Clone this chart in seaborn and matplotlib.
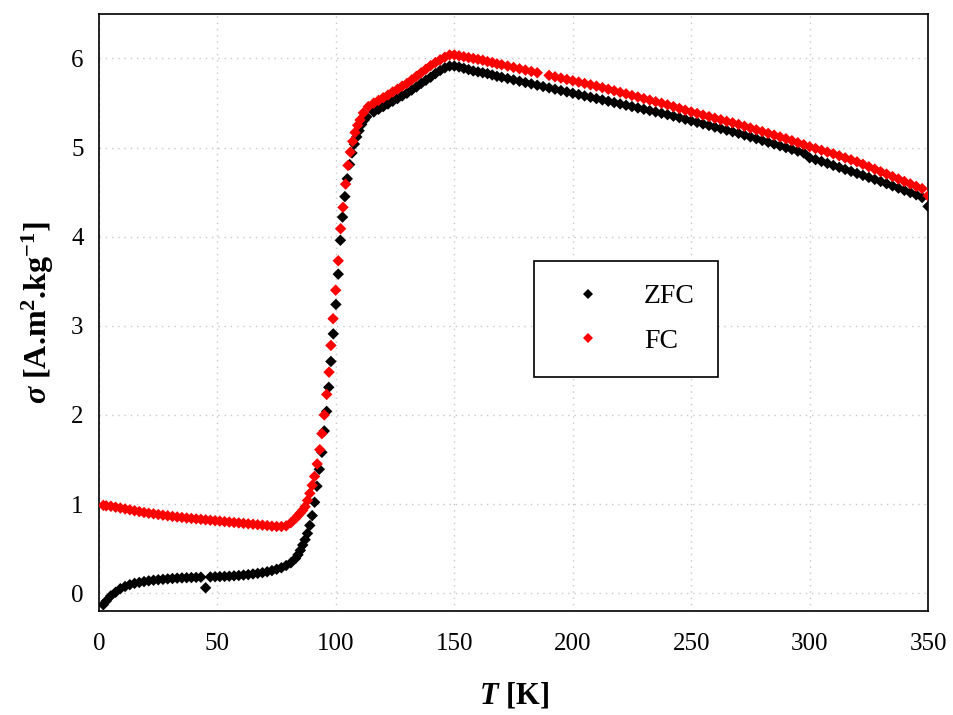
import matplotlib
matplotlib.use("Agg")
import matplotlib.pyplot as plt
from matplotlib.ticker import MultipleLocator
import pandas as pd
import seaborn as sns

# Zero-field-cooled magnetisation, sigma [A.m2.kg-1] against T [K]
zfc_temp = [
    1.8, 3, 5, 7, 9, 11, 13, 15, 17, 19, 21, 23, 25, 27, 29, 31, 33, 35, 37, 39,
    41, 43, 45, 47, 49, 51, 53, 55, 57, 59, 61, 63, 65, 67, 69, 71, 73, 75, 77, 79,
    81, 83,
    84, 85, 86, 87, 88, 89, 90, 91, 92, 93, 94.1, 95.1, 96.1, 97, 97.9, 98.9, 100,
    101, 101.9, 102.8, 103.8, 104.8, 105.8, 106.8, 107.8, 108.8, 109.8, 110.9, 112, 113,
    116, 118, 120, 122, 124, 126, 128, 130, 132, 134, 136, 138, 140, 142, 144, 146,
    148, 150, 152, 154, 156, 158, 160, 162, 164, 166, 168, 170,
    172.5, 175, 177.5, 180, 182.5, 185, 187.5, 190, 192.5, 195, 197.5, 200,
    202.5, 205, 207.5, 210, 212.5, 215, 217.5, 220, 222.5, 225, 227.5, 230,
    232.5, 235, 237.5, 240, 242.5, 245, 247.5, 250, 252.5, 255, 257.5, 260,
    262.5, 265, 267.5, 270, 272.5, 275, 277.5, 280, 282.5, 285, 287.5, 290,
    292.5, 295, 297.5, 300, 302.5, 305, 307.5, 310, 312.5, 315, 317.5, 320,
    322.5, 325, 327.5, 330, 332.5, 335, 337.5, 340, 342.5, 345, 347.5, 350,
]
zfc_sigma = [
    -0.13, -0.09, -0.03, 0.01, 0.05, 0.075, 0.095, 0.11, 0.12, 0.13, 0.138, 0.145,
    0.15, 0.155, 0.16, 0.164, 0.168, 0.171, 0.173, 0.175, 0.177, 0.179, 0.06, 0.182,
    0.184, 0.186, 0.188, 0.19, 0.194, 0.198, 0.203, 0.208, 0.215, 0.222, 0.23, 0.24,
    0.253, 0.268, 0.285, 0.31, 0.34, 0.39,
    0.43, 0.48, 0.54, 0.60, 0.67, 0.76, 0.87, 1.02, 1.20, 1.39, 1.58, 1.82, 2.04,
    2.31, 2.60, 2.91, 3.24, 3.58, 3.96, 4.22, 4.45, 4.65, 4.81, 4.94, 5.04, 5.12,
    5.19, 5.26, 5.31, 5.345,
    5.40, 5.43, 5.46, 5.49, 5.52, 5.55, 5.58, 5.61, 5.645, 5.68, 5.72, 5.755, 5.79,
    5.83, 5.865, 5.895, 5.915, 5.915, 5.905, 5.89, 5.875, 5.86, 5.85, 5.84, 5.83,
    5.815, 5.80, 5.79,
    5.775, 5.76, 5.745, 5.73, 5.715, 5.70, 5.685, 5.67, 5.655, 5.64, 5.625, 5.61,
    5.595, 5.58, 5.565, 5.55, 5.535, 5.52, 5.505, 5.49, 5.475, 5.46, 5.445, 5.43,
    5.415, 5.40, 5.385, 5.37, 5.353, 5.336, 5.318, 5.30, 5.283, 5.265, 5.248, 5.23,
    5.213, 5.195, 5.178, 5.16, 5.14, 5.12, 5.10, 5.08, 5.06, 5.04, 5.02, 5.00,
    4.98, 4.96, 4.94, 4.885, 4.865, 4.845, 4.823, 4.80, 4.778, 4.755, 4.733, 4.71,
    4.688, 4.665, 4.643, 4.62, 4.595, 4.57, 4.545, 4.52, 4.495, 4.47, 4.44, 4.34,
]

# Field-cooled magnetisation
fc_temp = [
    1.8, 3, 5, 7, 9, 11, 13, 15, 17, 19, 21, 23, 25, 27, 29, 31, 33, 35, 37, 39,
    41, 43, 45, 47, 49, 51, 53, 55, 57, 59, 61, 63, 65, 67, 69, 71, 73, 75, 77, 79,
    81, 83,
    84, 85, 86, 87, 88, 89, 90, 91, 92.1, 93.2, 94.1, 95.1, 96.1, 97.1, 97.9, 98.8,
    99.9, 101, 102, 103, 104.1, 105.1, 106.1, 107.1, 108.1, 109.2, 110.2, 111.6, 113.7,
    116, 118, 120, 122, 124, 126, 128, 130, 132, 134, 136, 138, 140, 142, 144, 146,
    148, 150, 152, 154, 156, 158, 160, 162, 164, 166, 168, 170,
    172.5, 175, 177.5, 180, 182.5, 185, 190, 192.5, 195, 197.5, 200,
    202.5, 205, 207.5, 210, 212.5, 215, 217.5, 220, 222.5, 225, 227.5, 230,
    232.5, 235, 237.5, 240, 242.5, 245, 247.5, 250, 252.5, 255, 257.5, 260,
    262.5, 265, 267.5, 270, 272.5, 275, 277.5, 280, 282.5, 285, 287.5, 290,
    292.5, 295, 297.5, 300, 302.5, 305, 307.5, 310, 312.5, 315, 317.5, 320,
    322.5, 325, 327.5, 330, 332.5, 335, 337.5, 340, 342.5, 345, 347.5, 350,
]
fc_sigma = [
    0.985, 0.98, 0.975, 0.965, 0.955, 0.945, 0.935, 0.925, 0.915, 0.905, 0.897, 0.89,
    0.882, 0.875, 0.868, 0.861, 0.855, 0.849, 0.843, 0.838, 0.833, 0.828, 0.823,
    0.818, 0.813, 0.808, 0.803, 0.798, 0.793, 0.788, 0.783, 0.778, 0.773, 0.768,
    0.763, 0.758, 0.752, 0.748, 0.748, 0.755, 0.79, 0.84,
    0.87, 0.90, 0.93, 0.97, 1.04, 1.12, 1.21, 1.31, 1.45, 1.61, 1.79, 2.00, 2.23,
    2.48, 2.78, 3.08, 3.40, 3.73, 4.09, 4.33, 4.59, 4.80, 4.95, 5.07, 5.17, 5.25,
    5.31, 5.39, 5.46,
    5.50, 5.53, 5.56, 5.59, 5.625, 5.655, 5.69, 5.72, 5.76, 5.80, 5.84, 5.88, 5.92,
    5.955, 5.985, 6.015, 6.04, 6.04, 6.03, 6.02, 6.01, 6.00, 5.99, 5.98, 5.965,
    5.955, 5.94, 5.93,
    5.915, 5.90, 5.885, 5.87, 5.855, 5.84, 5.81, 5.795, 5.78, 5.765, 5.75,
    5.735, 5.72, 5.705, 5.69, 5.673, 5.655, 5.638, 5.62, 5.603, 5.585, 5.568, 5.55,
    5.533, 5.515, 5.498, 5.48, 5.46, 5.44, 5.42, 5.40, 5.383, 5.365, 5.348, 5.33,
    5.313, 5.295, 5.278, 5.26, 5.24, 5.22, 5.20, 5.18, 5.16, 5.14, 5.12, 5.10,
    5.078, 5.055, 5.033, 5.01, 4.99, 4.97, 4.95, 4.93, 4.908, 4.885, 4.863, 4.84,
    4.813, 4.785, 4.758, 4.73, 4.703, 4.675, 4.648, 4.62, 4.593, 4.565, 4.54, 4.46,
]

series_names = ["ZFC", "FC"]
series_colors = ["black", "red"]
x_ticks = [0, 50, 100, 150, 200, 250, 300, 350]
y_ticks = [0, 1, 2, 3, 4, 5, 6]

df = pd.concat([
    pd.DataFrame({"T": zfc_temp, "sigma": zfc_sigma, "curve": series_names[0]}),
    pd.DataFrame({"T": fc_temp, "sigma": fc_sigma, "curve": series_names[1]}),
], ignore_index=True)

sns.set_style("white")
plt.rcParams.update({
    "font.family": ["Liberation Serif", "DejaVu Serif"],
    "text.color": "black",
    "axes.labelcolor": "black",
    "xtick.color": "black",
    "ytick.color": "black",
    "mathtext.fontset": "custom",
    "mathtext.rm": "Liberation Serif:bold",
    "mathtext.bf": "Liberation Serif:bold",
    "mathtext.it": "Liberation Serif:italic:bold",
    "mathtext.bfit": "Liberation Serif:italic:bold",
})

fig = plt.figure(figsize=(9.54, 7.15), dpi=100)
ax = fig.add_axes([0.1038, 0.1455, 0.8690, 0.8350])

sns.scatterplot(
    data=df, x="T", y="sigma", hue="curve", hue_order=series_names,
    palette=dict(zip(series_names, series_colors)),
    marker="D", s=34, linewidth=0, ax=ax, zorder=3,
)

ax.set_xlim(0, 350)
ax.set_ylim(-0.2, 6.5)
ax.set_xticks(x_ticks)
ax.set_yticks(y_ticks)
ax.xaxis.set_minor_locator(MultipleLocator(10))
ax.yaxis.set_minor_locator(MultipleLocator(0.2))
ax.tick_params(which="both", direction="in", top=False, right=False,
               color="black", width=1.0)
ax.tick_params(which="major", length=5, labelsize=18, labelcolor="black")
ax.tick_params(axis="x", which="major", pad=16)
ax.tick_params(axis="y", which="major", pad=11)
ax.tick_params(which="minor", length=3)

ax.set_axisbelow(True)
ax.grid(True, which="major", color="#c8c8c8", linestyle=(0, (1, 3.5)), linewidth=1.0)
for side in ax.spines.values():
    side.set_visible(True)
    side.set_color("black")
    side.set_linewidth(1.2)

ax.set_xlabel(r"$\mathbfit{T}$ [K]", fontsize=22, fontweight="bold", labelpad=18,
              color="black")
ax.set_ylabel(r"$\mathbfit{\sigma}$ [A.m$^{2}$.kg$^{-1}$]", fontsize=23,
              fontweight="bold", labelpad=11, color="black")

sns.move_legend(
    ax, "upper left", bbox_to_anchor=(0.525, 0.586), borderaxespad=0,
    title=None, fontsize=20, frameon=True, fancybox=False, framealpha=1,
    edgecolor="black", borderpad=0.82, handlelength=2.25, handletextpad=0.88,
    labelspacing=0.7, markerscale=0.9,
)
leg = ax.get_legend()
leg.get_frame().set_linewidth(1.2)
for txt in leg.get_texts():
    txt.set_color("black")

fig.savefig("out.png", dpi=100)
